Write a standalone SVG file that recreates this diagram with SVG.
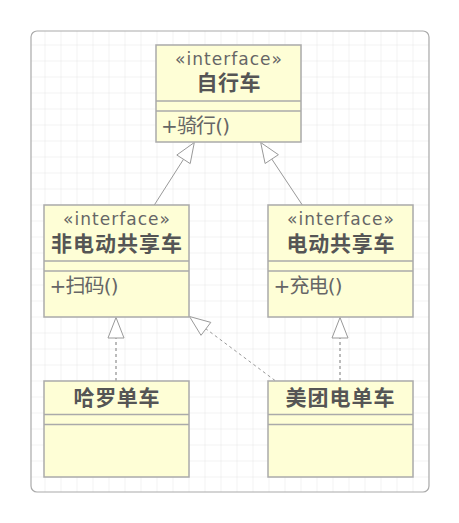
<svg xmlns="http://www.w3.org/2000/svg" width="459" height="523" viewBox="0 0 459 523">
  <defs>
    <pattern id="grid" x="12.5" y="12.5" width="16" height="16" patternUnits="userSpaceOnUse">
      <path d="M 16 0 L 0 0 0 16" fill="none" stroke="#e6e6e6" stroke-width="1"/>
    </pattern>
    <clipPath id="frameClip">
      <rect x="31" y="31" width="398" height="461" rx="6"/>
    </clipPath>
  </defs>
  <style>
    .box { fill: #FEFED6; stroke: #aaaaaa; stroke-width: 1.5; }
    .div { stroke: #aaaaaa; stroke-width: 1.5; }
    .stereo { font-family: "DejaVu Sans", "Noto Sans CJK SC", sans-serif; font-size: 17px; fill: #666666; text-anchor: middle; }
    .name { font-family: "Noto Sans CJK SC", "DejaVu Sans", sans-serif; font-size: 21px; font-weight: bold; fill: #555555; text-anchor: middle; }
    .member { font-family: "DejaVu Sans", "Noto Sans CJK SC", sans-serif; font-size: 20px; fill: #666666; }
    .solid { fill: none; stroke: #999999; stroke-width: 1; }
    .dashv { fill: none; stroke: #bbbbbb; stroke-width: 2; stroke-dasharray: 3 3; }
    .dashd { fill: none; stroke: #999999; stroke-width: 1; stroke-dasharray: 3 3; }
    .head { fill: #ffffff; stroke: #999999; stroke-width: 1; }
  </style>
  <rect x="0" y="0" width="459" height="523" fill="#ffffff"/>
  <rect x="31" y="31" width="398" height="461" fill="url(#grid)" clip-path="url(#frameClip)"/>
  <rect x="31" y="31" width="398" height="461" rx="6" fill="none" stroke="#aaaaaa" stroke-width="1.2"/>

  <g id="connectors">
    <!-- 非电动共享车 -> 自行车 -->
    <line class="solid" x1="154.3" y1="205" x2="183.5" y2="159.3"/>
    <polygon class="head" points="194.3,142.5 190.2,163.6 176.8,155"/>
    <!-- 电动共享车 -> 自行车 -->
    <line class="solid" x1="302.3" y1="205" x2="271.8" y2="159.1"/>
    <polygon class="head" points="260.7,142.5 278.4,154.7 265.1,163.5"/>
    <!-- 哈罗单车 -> 非电动共享车 -->
    <line class="dashv" x1="116" y1="381" x2="116" y2="338"/>
    <polygon class="head" points="116,317.5 108,338 124,338"/>
    <!-- 美团电单车 -> 电动共享车 -->
    <line class="dashv" x1="340" y1="381" x2="340" y2="338"/>
    <polygon class="head" points="340,317.5 332,338 348,338"/>
    <!-- 美团电单车 -> 非电动共享车 -->
    <line class="dashd" x1="275" y1="380.5" x2="205.5" y2="328.5"/>
    <polygon class="head" points="189.5,316.5 210.8,322.4 201,335.3"/>
  </g>

  <g id="node-zixingche">
    <rect class="box" x="156" y="45" width="145" height="97"/>
    <line class="div" x1="156" y1="101" x2="301" y2="101"/>
    <line class="div" x1="156" y1="111" x2="301" y2="111"/>
    <text class="stereo" x="228.5" y="65" textLength="107" lengthAdjust="spacing">«interface»</text>
    <text class="name" x="228.5" y="89.5" textLength="64" lengthAdjust="spacing">自行车</text>
    <text class="member" x="161" y="133" textLength="69" lengthAdjust="spacing">+骑行()</text>
  </g>

  <g id="node-feidiandong">
    <rect class="box" x="44" y="205" width="145" height="112"/>
    <line class="div" x1="44" y1="261" x2="189" y2="261"/>
    <line class="div" x1="44" y1="271" x2="189" y2="271"/>
    <text class="stereo" x="116.5" y="224.5" textLength="107" lengthAdjust="spacing">«interface»</text>
    <text class="name" x="116.5" y="250.5" textLength="131" lengthAdjust="spacing">非电动共享车</text>
    <text class="member" x="49.5" y="293" textLength="69" lengthAdjust="spacing">+扫码()</text>
  </g>

  <g id="node-diandong">
    <rect class="box" x="268" y="205" width="145" height="112"/>
    <line class="div" x1="268" y1="261" x2="413" y2="261"/>
    <line class="div" x1="268" y1="271" x2="413" y2="271"/>
    <text class="stereo" x="340.5" y="224.5" textLength="107" lengthAdjust="spacing">«interface»</text>
    <text class="name" x="340.5" y="250.5" textLength="108" lengthAdjust="spacing">电动共享车</text>
    <text class="member" x="273.5" y="293" textLength="69" lengthAdjust="spacing">+充电()</text>
  </g>

  <g id="node-haluo">
    <rect class="box" x="44" y="381" width="145" height="96"/>
    <line class="div" x1="44" y1="414.5" x2="189" y2="414.5"/>
    <line class="div" x1="44" y1="424.5" x2="189" y2="424.5"/>
    <text class="name" x="116.5" y="404.5" textLength="86" lengthAdjust="spacing">哈罗单车</text>
  </g>

  <g id="node-meituan">
    <rect class="box" x="268" y="381" width="145" height="96"/>
    <line class="div" x1="268" y1="414.5" x2="413" y2="414.5"/>
    <line class="div" x1="268" y1="424.5" x2="413" y2="424.5"/>
    <text class="name" x="340" y="404.5" textLength="109" lengthAdjust="spacing">美团电单车</text>
  </g>
</svg>
